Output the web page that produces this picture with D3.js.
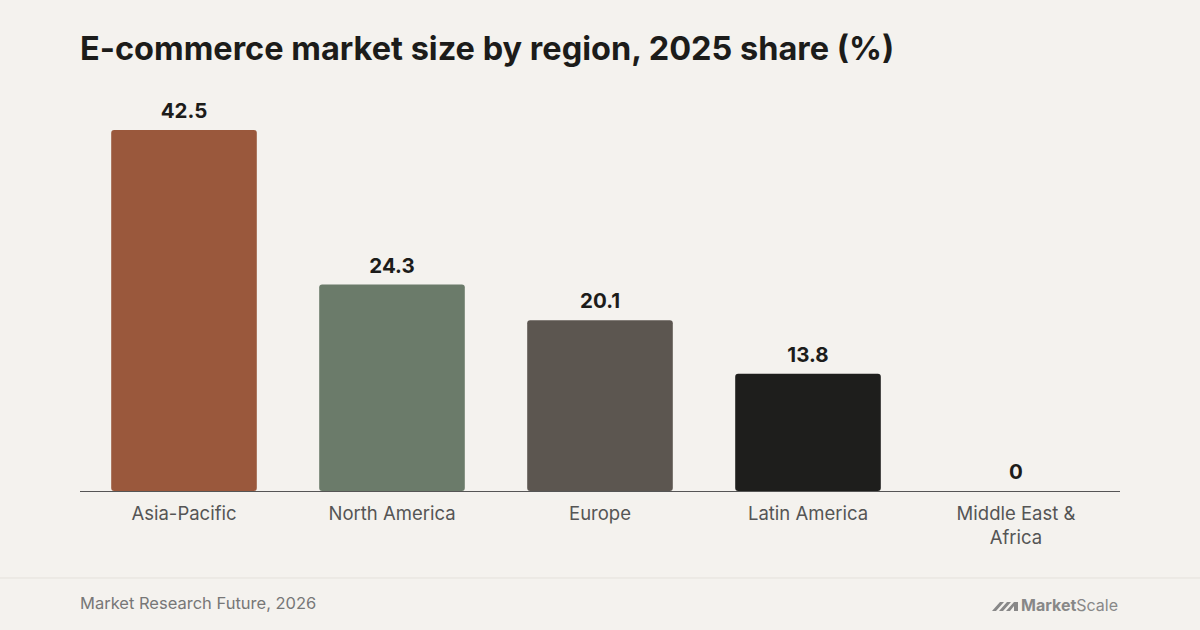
<!DOCTYPE html>
<html><head><meta charset="utf-8">
<script src="https://cdn.jsdelivr.net/npm/d3@7"></script>
<style>body{margin:0;background:#f4f2ee;font-family:Inter,"Noto Sans",sans-serif}</style>
</head><body><svg id="c" width="1200" height="630"></svg>
<script>
var regions = ['Asia-Pacific', 'North America', 'Europe', 'Latin America', 'Middle East & Africa'];
var shares = [42.5, 24.3, 20.1, 13.8, 0];
var colors = ['#9a583c', '#6b7b6a', '#5c5650', '#1e1e1c', '#c9c4bc'];

var svg = d3.select('#c');
svg.append('rect').attr('width', 1200).attr('height', 630).attr('fill', '#f4f2ee');

svg.append('text').attr('x', 80).attr('y', 60)
    .attr('font-size', 32.5).attr('font-weight', 700).attr('fill', '#1c1c1a')
    .text('E-commerce market size by region, 2025 share (%)');

var x = d3.scaleBand().domain(regions).range([80, 1120]).paddingInner(0.3).paddingOuter(0.15);
var y = d3.scaleLinear().domain([0, 42.5]).range([491, 130]);

var data = regions.map(function(r, i) { return {r: r, v: shares[i], c: colors[i]} });

svg.selectAll('rect.bar').data(data).enter().append('rect')
    .attr('class', 'bar')
    .attr('x', function(d) { return x(d.r) })
    .attr('y', function(d) { return y(d.v) })
    .attr('width', x.bandwidth())
    .attr('height', function(d) { return y(0) - y(d.v) })
    .attr('rx', 3)
    .attr('fill', function(d) { return d.c });

svg.selectAll('text.val').data(data).enter().append('text')
    .attr('x', function(d) { return x(d.r) + x.bandwidth() / 2 })
    .attr('y', function(d) { return y(d.v) - 12 })
    .attr('text-anchor', 'middle').attr('font-size', 20.5).attr('font-weight', 700).attr('fill', '#1c1c1a')
    .text(function(d) { return d.v });

svg.append('line').attr('x1', 80).attr('x2', 1120).attr('y1', y(0) + 0.5).attr('y2', y(0) + 0.5)
    .attr('stroke', '#555').attr('stroke-width', 1.2);

var labs = svg.selectAll('text.lab').data(data).enter().append('text')
    .attr('text-anchor', 'middle').attr('font-size', 18.5).attr('fill', '#555')
    .attr('x', function(d) { return x(d.r) + x.bandwidth() / 2 });
labs.each(function(d) {
    var lines = d.r === 'Middle East & Africa' ? ['Middle East &', 'Africa'] : [d.r];
    var t = d3.select(this);
    lines.forEach(function(l, i) {
        t.append('tspan').attr('x', x(d.r) + x.bandwidth() / 2).attr('y', 520 + i * 24).text(l);
    });
});

svg.append('line').attr('x1', 0).attr('x2', 1200).attr('y1', 578).attr('y2', 578).attr('stroke', '#e4e1db');
svg.append('text').attr('x', 80).attr('y', 609).attr('font-size', 16.5).attr('fill', '#777')
    .text('Market Research Future, 2026');

var logo = svg.append('g').attr('transform', 'translate(992,602)');
logo.append('path').attr('d', 'M0,9 L8,0 L12,0 L4,9 Z M7,9 L15,0 L19,0 L11,9 Z M14,9 L22,0 L26,0 L26,9 L22,9 L22,4 L18,9 Z').attr('fill', '#888');
var lt = logo.append('text').attr('x', 29).attr('y', 9).attr('font-size', 16).attr('fill', '#888');
lt.append('tspan').attr('font-weight', 700).text('Market');
lt.append('tspan').text('Scale');
</script></body></html>
